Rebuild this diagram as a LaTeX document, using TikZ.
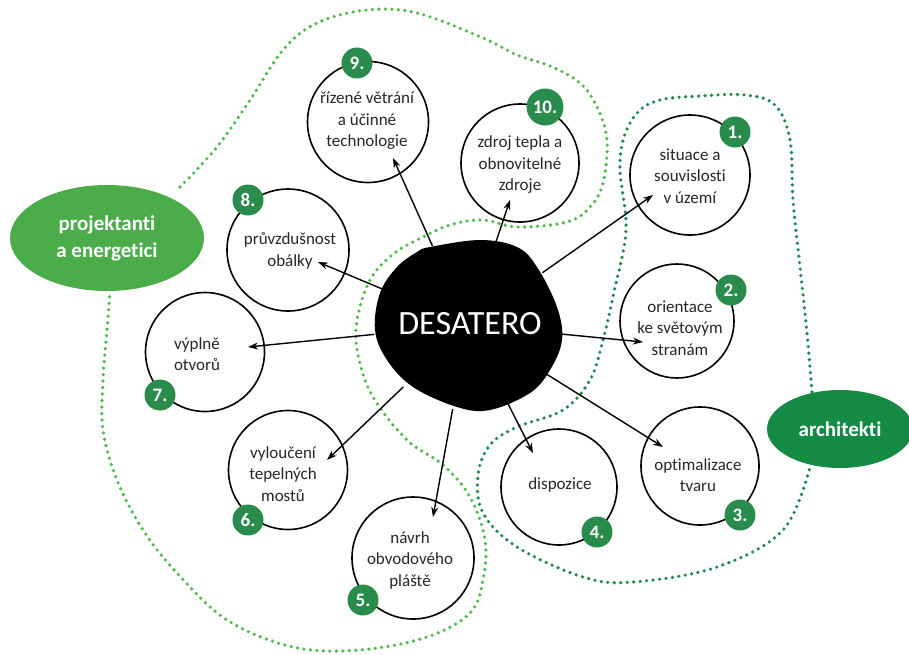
\documentclass[tikz,border=0pt]{standalone}
\usepackage{fontspec}
\setmainfont{Carlito}[Ligatures=NoCommon]
\usetikzlibrary{arrows.meta,shapes.geometric}
\definecolor{lightg}{HTML}{4DBA4A}
\definecolor{darkg}{HTML}{1B8A4A}
\definecolor{projg}{HTML}{4AAD4A}
\definecolor{archg}{HTML}{148A45}
\definecolor{badgeg}{HTML}{2A8C4C}
\definecolor{txtgray}{HTML}{262626}
\begin{document}
\begin{tikzpicture}[x=1pt,y=-1pt,
  bubble/.style={circle,draw=black,line width=1.6pt,minimum size=#1,inner sep=0pt},
  txt/.style={align=center,text=txtgray,font=\fontsize{17}{21.5}\selectfont},
  badge/.style={circle,fill=badgeg,text=white,minimum size=31pt,inner sep=0pt,font=\fontsize{19}{19}\selectfont\bfseries},
  arr/.style={-{Stealth[length=10pt,width=7pt]},line width=1.4pt},
  dotl/.style={draw=lightg,line width=3.6pt,line cap=round,dash pattern=on 0pt off 6.5pt},
  dotd/.style={draw=darkg,line width=3.6pt,line cap=round,dash pattern=on 0pt off 6.5pt},
  group/.style={ellipse,text=white,inner sep=0pt,align=center,font=\fontsize{21}{27}\selectfont\bfseries}
]
\useasboundingbox (0,0) rectangle (909,654);

% group regions (dotted)
\draw[dotl] plot[smooth,tension=0.6] coordinates {
 (180,187) (217,147) (250,100) (283,50) (317,23) (367,10) (417,13) (483,38) (517,55)
 (550,66) (580,83) (597,107) (607,140) (603,183) (590,207) (567,222) (517,227) (483,220)
 (450,225) (417,240) (392,255) (370,280) (357,320) (358,355) (373,397) (407,440) (443,465)
 (470,497) (485,540) (483,580) (470,613) (427,637) (360,650) (293,647) (227,620) (177,573)
 (143,530) (117,480) (103,430) (103,380) (107,330) (110,292)};
\draw[dotd] plot[smooth,tension=0.6] coordinates {
 (812,392) (807,333) (800,267) (793,200) (790,140) (775,105) (745,95) (700,96) (660,100)
 (638,112) (624,137) (620,170) (626,230) (614,292) (603,340) (590,380) (563,410) (517,427)
 (490,445) (478,475) (483,513) (517,547) (583,577) (633,582) (717,567) (783,530) (810,467)};

\node[group,fill=projg,minimum width=194pt,minimum height=106pt] (pe) at (107,238) {projektanti\\a energetici};
\node[group,fill=archg,minimum width=146pt,minimum height=78pt] (ar) at (840,429) {architekti};

% centre
\node[ellipse,minimum width=188pt,minimum height=170pt,inner sep=0pt] (c) at (468,325) {};
\fill[black] plot[smooth cycle,tension=0.6] coordinates {
 (430,247) (480,240) (517,247) (537,267) (557,307) (562,340) (550,370) (530,393) (490,410)
 (457,407) (413,387) (387,360) (375,330) (380,293) (397,267) (417,252)};
\node[text=white,font=\fontsize{34}{34}\selectfont] (dt) at (470,324) {DESATERO};

% bubbles
\node[bubble=120pt] (n1) at (690,175) {};
\node[bubble=114pt] (n2) at (677,321) {};
\node[bubble=118pt] (n3) at (700,466) {};
\node[bubble=116pt] (n4) at (559,487) {};
\node[bubble=122pt] (n5) at (413,558) {};
\node[bubble=119pt] (n6) at (288,470) {};
\node[bubble=119pt] (n7) at (205,352) {};
\node[bubble=122pt] (n8) at (288,250) {};
\node[bubble=121pt] (n9) at (368,122) {};
\node[bubble=118pt] (n10) at (520,163) {};

\node[txt] (l1) at (690,176) {situace a\\souvislosti\\v území};
\node[txt] (l2) at (680,328) {orientace\\ke světovým\\stranám};
\node[txt] (l3) at (698,475) {optimalizace\\tvaru};
\node[txt] (l4) at (560,485) {dispozice};
\node[txt] (l5) at (410,560) {návrh\\obvodového\\pláště};
\node[txt] (l6) at (283,474) {vyloučení\\tepelných\\mostů};
\node[txt] (l7) at (197,354) {výplně\\otvorů};
\node[txt] (l8) at (290,251) {průvzdušnost\\obálky};
\node[txt] (l9) at (367,121) {řízené větrání\\a účinné\\technologie};
\node[txt] (l10) at (520,165) {zdroj tepla a\\obnovitelné\\zdroje};

% badges
\node[badge] (b1) at (735,132) {1.};
\node[badge] (b2) at (731,290) {2.};
\node[badge] (b3) at (740,515) {3.};
\node[badge] (b4) at (597,532) {4.};
\node[badge] (b5) at (363,600) {5.};
\node[badge] (b6) at (248,520) {6.};
\node[badge] (b7) at (160,395) {7.};
\node[badge] (b8) at (248,200) {8.};
\node[badge] (b9) at (357,63) {9.};
\node[badge,minimum width=37pt] (b10) at (545,107) {10.};

% arrow tips
\coordinate (t1) at (653,195);
\coordinate (t2) at (643,342);
\coordinate (t3) at (663,447);
\coordinate (t4) at (533,453);
\coordinate (t5) at (433,517);
\coordinate (t6) at (327,460);
\coordinate (t7) at (248,347);
\coordinate (t8) at (318,262);
\coordinate (t9) at (393,158);
\coordinate (t10) at (510,200);
\foreach \i in {1,...,10} {\draw[arr] (c) -- (t\i);}
\end{tikzpicture}
\end{document}
